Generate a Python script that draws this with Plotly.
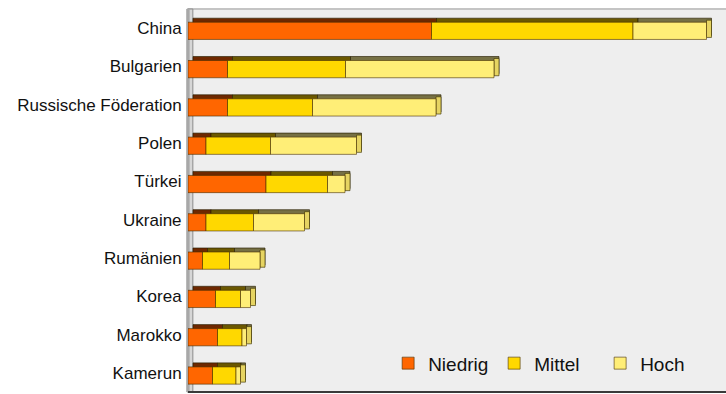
import plotly.graph_objects as go
import numpy as np

# Countries (top to bottom) and the three stacked classes
laender = ["China", "Bulgarien", "Russische Föderation", "Polen", "Türkei",
           "Ukraine", "Rumänien", "Korea", "Marokko", "Kamerun"]
niedrig = [48.7, 7.9, 7.9, 3.6, 15.6, 3.6, 2.9, 5.5, 5.9, 4.9]
mittel = [40.3, 23.6, 17.0, 12.9, 12.3, 9.5, 5.4, 5.0, 4.9, 4.7]
hoch = [14.7, 29.7, 24.7, 17.2, 3.5, 10.2, 6.1, 2.0, 0.9, 0.9]

serien = [
    ("Niedrig", niedrig, "#ff6600", "#6e2800"),
    ("Mittel", mittel, "#ffd800", "#6b5800"),
    ("Hoch", hoch, "#ffee77", "#767044"),
]

pos = np.arange(len(laender))
breite = 0.45
versatz = -0.155
tiefe_x = 1.0      # extrusion to the right (data units)
tiefe_y = 0.105    # extrusion upwards (category units)

fig = go.Figure()

# cumulative bases of the stacked segments
basen = []
acc = np.zeros(len(laender))
for _, werte, _, _ in serien:
    basen.append(acc.copy())
    acc = acc + np.array(werte)
gesamt = acc

# back faces (give the top edge of the 3D boxes)
for (name, werte, farbe, dunkel), b in zip(serien, basen):
    fig.add_trace(go.Bar(
        y=pos, x=werte, base=b + tiefe_x, orientation="h",
        width=breite, offset=versatz - tiefe_y,
        marker=dict(color=dunkel, line=dict(color="rgba(40,30,0,0.8)", width=0.8)),
        showlegend=False, hoverinfo="skip"))

# right side face of each total bar
fig.add_trace(go.Bar(
    y=pos, x=[tiefe_x] * len(laender), base=gesamt, orientation="h",
    width=breite, offset=versatz - tiefe_y / 2,
    marker=dict(color="#e6d462", line=dict(color="rgba(60,50,0,0.8)", width=0.8)),
    showlegend=False, hoverinfo="skip"))

# front faces
for (name, werte, farbe, dunkel), b in zip(serien, basen):
    fig.add_trace(go.Bar(
        y=pos, x=werte, base=b, orientation="h", name=name,
        width=breite, offset=versatz,
        marker=dict(color=farbe, line=dict(color="rgba(70,45,0,0.75)", width=0.8))))

fig.update_layout(
    width=726, height=394,
    margin=dict(l=188, r=0, t=9, b=2, autoexpand=False),
    paper_bgcolor="white",
    plot_bgcolor="#eeeeee",
    barmode="overlay",
    font=dict(family="Liberation Sans", color="#111111"),
    legend=dict(orientation="h", x=0.372, y=0.075, xanchor="left", yanchor="middle",
                bgcolor="rgba(0,0,0,0)", font=dict(size=19), itemwidth=30,
                entrywidth=61),
    xaxis=dict(range=[0, 107.6], showgrid=False, zeroline=False,
               showticklabels=False, ticks=""),
    yaxis=dict(range=[9.5, -0.5], tickmode="array", tickvals=pos, ticktext=laender,
               showgrid=False, zeroline=False, ticks="outside", ticklen=2,
               tickcolor="rgba(0,0,0,0)", tickfont=dict(size=17)),
    shapes=[
        # top edge of the plot area
        dict(type="line", xref="paper", yref="paper", x0=0, x1=1, y0=1, y1=1,
             line=dict(color="#c4c4c4", width=2), layer="below"),
        # bottom edge
        dict(type="line", xref="paper", yref="paper", x0=0, x1=1, y0=0, y1=0,
             line=dict(color="#3a3a3a", width=2)),
        # left wall
        dict(type="rect", xref="paper", yref="paper", x0=-0.002, x1=0.009, y0=0, y1=1,
             fillcolor="#d6d6d6", line=dict(color="#8c8c8c", width=1), layer="below"),
        dict(type="rect", xref="paper", yref="paper", x0=-0.002, x1=0.003, y0=0, y1=1,
             fillcolor="#a8a8a8", line=dict(width=0), layer="below"),
    ],
)

fig.write_html("out.html")
